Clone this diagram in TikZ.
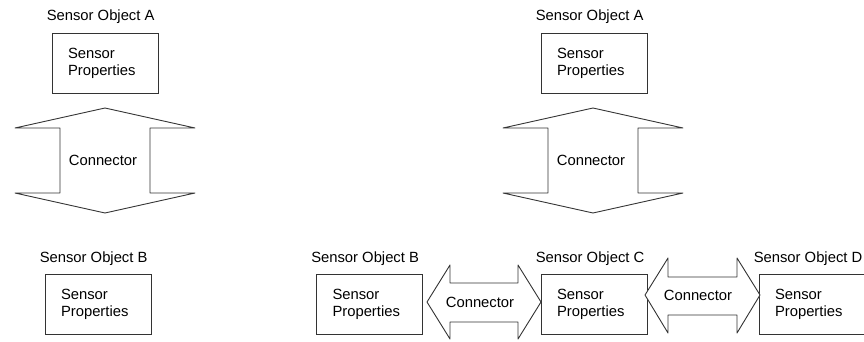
\documentclass[tikz,border=0pt]{standalone}
\usepackage{fontspec}
\setmainfont{Liberation Sans}
\newcommand\sensorfont{\fontsize{14.8}{17}\selectfont}
\tikzset{
  sbox/.style={draw=black!80, line width=0.9pt, minimum width=106pt, minimum height=60pt,
    text width=74pt, inner xsep=16pt, align=left, font=\sensorfont},
  slabel/.style={anchor=base west, inner sep=0pt, font=\sensorfont},
  conn/.style={draw=black!80, line width=0.9pt, fill=white, line join=round},
  conntext/.style={font=\sensorfont, inner sep=0pt}
}
\begin{document}
\begin{tikzpicture}[x=1pt,y=-1pt]
\useasboundingbox (0,0) rectangle (864,341);
% boxes
\node[sbox] (A1) at (105,63) {Sensor\\Properties};
\node[sbox] (B1) at (98,304.5) {Sensor\\Properties};
\node[sbox] (A2) at (594,63) {Sensor\\Properties};
\node[sbox] (B2) at (369.5,304.5) {Sensor\\Properties};
\node[sbox] (C2) at (594,304.5) {Sensor\\Properties};
\node[sbox] (D2) at (812,304.5) {Sensor\\Properties};
% labels
\node[slabel] (lA1) at ([xshift=-5pt,yshift=12pt]A1.north west) {Sensor Object A};
\node[slabel] (lB1) at ([xshift=-5pt,yshift=12pt]B1.north west) {Sensor Object B};
\node[slabel] (lA2) at ([xshift=-5pt,yshift=12pt]A2.north west) {Sensor Object A};
\node[slabel] (lB2) at ([xshift=-5pt,yshift=12pt]B2.north west) {Sensor Object B};
\node[slabel] (lC2) at ([xshift=-5pt,yshift=12pt]C2.north west) {Sensor Object C};
\node[slabel] (lD2) at ([xshift=-5pt,yshift=12pt]D2.north west) {Sensor Object D};
% block arrows
\draw[conn] (105,108) -- (195,128) -- (150,128) -- (150,193) -- (195,193) -- (105,213)
  -- (15,193) -- (60,193) -- (60,128) -- (15,128) -- cycle;
\draw[conn] (593,108) -- (683,128) -- (638,128) -- (638,193) -- (683,193) -- (593,213)
  -- (503,193) -- (548,193) -- (548,128) -- (503,128) -- cycle;
\draw[conn] (427,302) -- (450,265) -- (450,283) -- (518,283) -- (518,265) -- (541,302)
  -- (518,339) -- (518,322) -- (450,322) -- (450,339) -- cycle;
\draw[conn] (645,295) -- (668,258) -- (668,277) -- (737,277) -- (737,258) -- (760,295)
  -- (737,333) -- (737,315) -- (668,315) -- (668,333) -- cycle;
% connector texts
\node[conntext] (c1) at (103,160) {Connector};
\node[conntext] (c2) at (591,160) {Connector};
\node[conntext] (c3) at (480,302.5) {Connector};
\node[conntext] (c4) at (698,295) {Connector};
\end{tikzpicture}
\end{document}
